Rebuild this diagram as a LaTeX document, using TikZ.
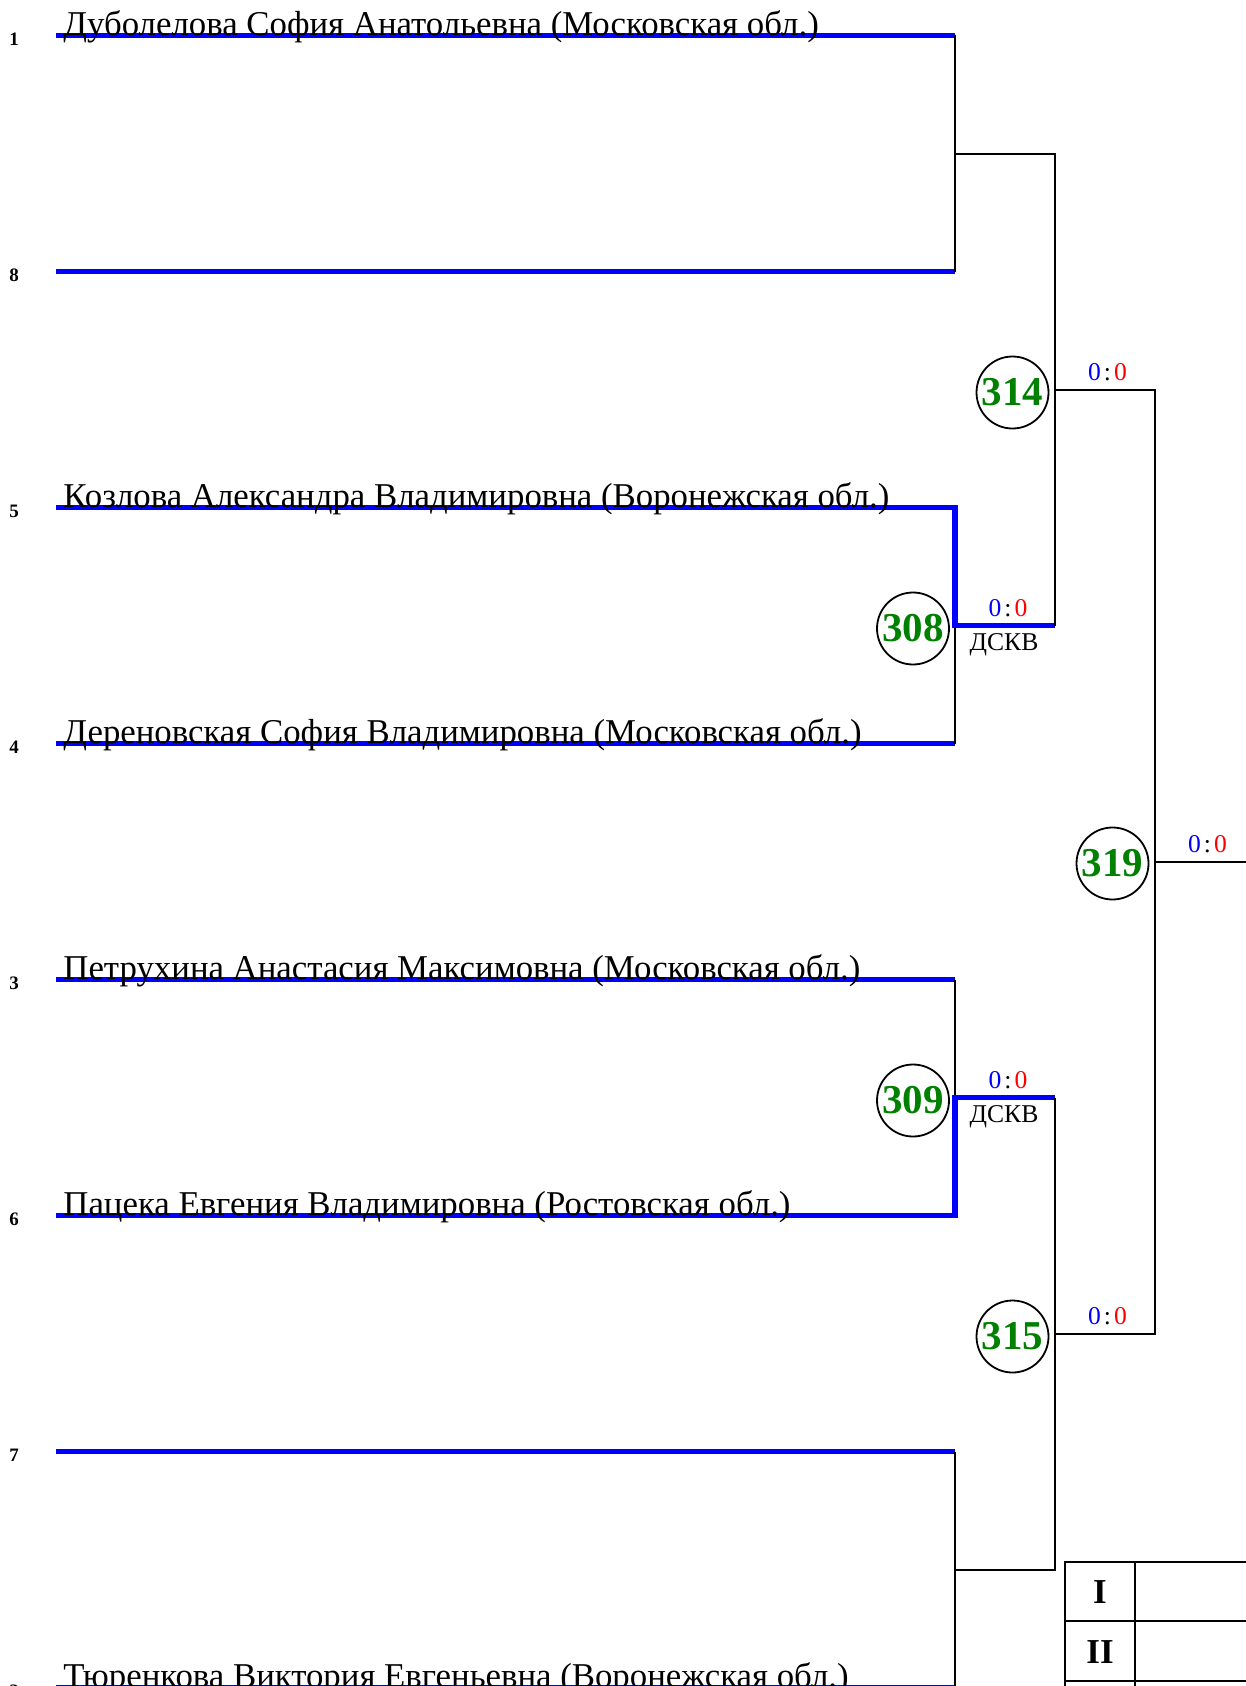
\documentclass[tikz,border=0pt]{standalone}
\usepackage{fontspec}
\setmainfont{Liberation Serif}
\definecolor{cblue}{RGB}{0,0,255}
\definecolor{cgreen}{RGB}{0,128,0}
\definecolor{cred}{RGB}{255,0,0}
\newcommand{\nil}{\textcolor{cblue}{0}\kern1.5pt:\kern1.5pt\textcolor{cred}{0}}

\begin{document}
\begin{tikzpicture}[x=0.5pt,y=-0.5pt, % one unit is one pixel, y grows downwards
  win/.style={draw=cblue,line width=2.8pt},
  lose/.style={draw=black,line width=1pt},
  grid/.style={draw=black,line width=1.2pt},
  seed/.style={inner sep=0pt,font=\fontsize{9.5}{11}\selectfont\bfseries},
  fighter/.style={anchor=base west,inner sep=0pt,font=\fontsize{17.4}{20}\selectfont},
  bout/.style={draw,circle,line width=0.9pt,minimum size=36pt,inner sep=0pt,
               text=cgreen,font=\fontsize{20.5}{24}\selectfont\bfseries},
  score/.style={inner sep=0pt,font=\fontsize{12.8}{14}\selectfont},
  place/.style={inner sep=0pt,font=\fontsize{17.5}{20}\selectfont\bfseries}]

\useasboundingbox (0,0) rectangle (1246,1686);

\def\xl{56} % left end of the lines
\def\xa{955} % first round
\def\xb{1054.5} % second round
\def\xc{1154.5} % third round
\def\yo{35.5} % first line
\def\ys{236} % distance between lines

% lines of the draw (top to bottom: 1 8 5 4 3 6 7 2)
\coordinate (l1) at (\xl,\yo);        \coordinate (r1) at (\xa,\yo);
\coordinate (l8) at (\xl,\yo+\ys);    \coordinate (r8) at (\xa,\yo+\ys);
\coordinate (l5) at (\xl,\yo+2*\ys);  \coordinate (r5) at (\xa,\yo+2*\ys);
\coordinate (l4) at (\xl,\yo+3*\ys);  \coordinate (r4) at (\xa,\yo+3*\ys);
\coordinate (l3) at (\xl,\yo+4*\ys);  \coordinate (r3) at (\xa,\yo+4*\ys);
\coordinate (l6) at (\xl,\yo+5*\ys);  \coordinate (r6) at (\xa,\yo+5*\ys);
\coordinate (l7) at (\xl,\yo+6*\ys);  \coordinate (r7) at (\xa,\yo+6*\ys);
\coordinate (l2) at (\xl,\yo+7*\ys);  \coordinate (r2) at (\xa,\yo+7*\ys);

% junctions of the bouts
\coordinate (a18) at (\xa,\yo+0.5*\ys);
\coordinate (a54) at (\xa,\yo+2.5*\ys);  \coordinate (b54) at (\xb,\yo+2.5*\ys);
\coordinate (a36) at (\xa,\yo+4.5*\ys);  \coordinate (b36) at (\xb,\yo+4.5*\ys);
\coordinate (a72) at (\xa,\yo+6.5*\ys);
\coordinate (b1) at (\xb,\yo+1.5*\ys);   \coordinate (ct) at (\xc,\yo+1.5*\ys);
\coordinate (b2) at (\xb,\yo+5.5*\ys);   \coordinate (cb) at (\xc,\yo+5.5*\ys);
\coordinate (c1) at (\xc,\yo+3.5*\ys);   \coordinate (fin) at (1300,\yo+3.5*\ys);

% first round
\draw[win] (l1) -- (r1);
\draw[win] (l8) -- (r8);
\draw[lose] (r1) -- (r8);
\draw[win] (l4) -- (r4);
\draw[lose] (r4) -- (a54);
\draw[win] (l5) -- (r5) |- (b54);
\draw[win] (l3) -- (r3);
\draw[lose] (r3) -- (a36);
\draw[win] (l6) -- (r6) |- (b36);
\draw[win] (l7) -- (r7);
\draw[win] (l2) -- (r2);
\draw[lose] (r7) -- (r2);

% second round and further
\draw[lose] (a18) -| (b54);
\draw[lose] (b36) |- (a72);
\draw[lose] (b1) -- (ct) -- (cb) -- (b2);
\draw[lose] (c1) -- (fin);

% seeds
\node[seed] (n1) at (14,\yo+3.5) {1};
\node[seed] (n8) at (14,\yo+\ys+3.5) {8};
\node[seed] (n5) at (14,\yo+2*\ys+3.5) {5};
\node[seed] (n4) at (14,\yo+3*\ys+3.5) {4};
\node[seed] (n3) at (14,\yo+4*\ys+3.5) {3};
\node[seed] (n6) at (14,\yo+5*\ys+3.5) {6};
\node[seed] (n7) at (14,\yo+6*\ys+3.5) {7};
\node[seed] (n2) at (14,\yo+7*\ys+3.5) {2};

% names
\node[fighter] (f1) at (63,\yo) {Дуболелова София Анатольевна (Московская обл.)};
\node[fighter] (f5) at (63,\yo+2*\ys) {Козлова Александра Владимировна (Воронежская обл.)};
\node[fighter] (f4) at (63,\yo+3*\ys) {Дереновская София Владимировна (Московская обл.)};
\node[fighter] (f3) at (63,\yo+4*\ys) {Петрухина Анастасия Максимовна (Московская обл.)};
\node[fighter] (f6) at (63,\yo+5*\ys) {Пацека Евгения Владимировна (Ростовская обл.)};
\node[fighter] (f2) at (63,\yo+7*\ys) {Тюренкова Виктория Евгеньевна (Воронежская обл.)};

% bouts
\node[bout] (k308) at (\xa-42,\yo+2.5*\ys+3) {308};
\node[bout] (k309) at (\xa-42,\yo+4.5*\ys+3) {309};
\node[bout] (k314) at (\xb-42,\yo+1.5*\ys+3) {314};
\node[bout] (k315) at (\xb-42,\yo+5.5*\ys+3) {315};
\node[bout] (k319) at (\xc-42,\yo+3.5*\ys+2) {319};

% scores
\node[score] (s308) at (\xa+53,\yo+2.5*\ys-17) {\nil};
\node[score] (d308) at (\xa+49,\yo+2.5*\ys+19) {ДСКВ};
\node[score] (s309) at (\xa+53,\yo+4.5*\ys-17) {\nil};
\node[score] (d309) at (\xa+49,\yo+4.5*\ys+19) {ДСКВ};
\node[score] (s314) at (\xb+53,\yo+1.5*\ys-17) {\nil};
\node[score] (s315) at (\xb+53,\yo+5.5*\ys-17) {\nil};
\node[score] (s319) at (\xc+53,\yo+3.5*\ys-17) {\nil};

% places
\draw[grid] (1065,1700) -- (1065,1562) -- (1300,1562);
\draw[grid] (1135,1562) -- (1135,1700);
\draw[grid] (1065,1621) -- (1300,1621);
\draw[grid] (1065,1681) -- (1300,1681);
\node[place] (pl1) at (1100,1592) {I};
\node[place] (pl2) at (1100,1652) {II};

\end{tikzpicture}
\end{document}
